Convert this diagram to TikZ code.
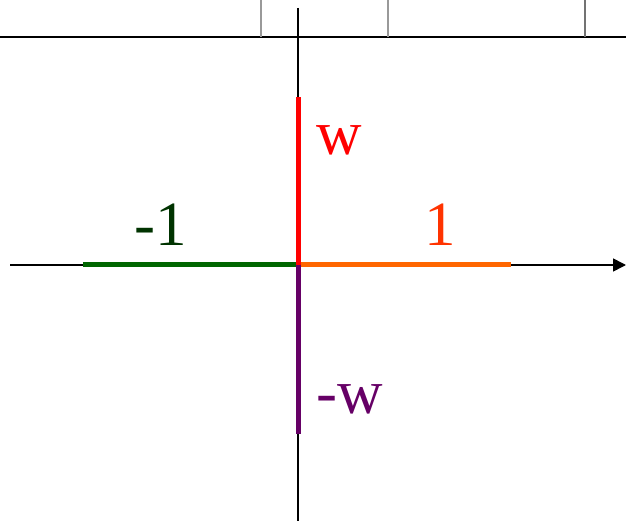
\documentclass[tikz,border=0pt]{standalone}
\usepackage{fontspec}
\setmainfont{Liberation Serif}
\usetikzlibrary{arrows.meta}
\definecolor{cRed}{RGB}{255,0,0}
\definecolor{cOrange}{RGB}{255,102,0}
\definecolor{cOrangeTxt}{RGB}{255,51,0}
\definecolor{cGreen}{RGB}{0,102,0}
\definecolor{cGreenTxt}{RGB}{0,51,0}
\definecolor{cPurple}{RGB}{102,0,102}
\begin{document}
\begin{tikzpicture}[x=1pt,y=-1pt,
  axis/.style={line width=1.6pt,black},
  tickline/.style={line width=1.3pt,gray!80},
  seg/.style={line width=5pt},
  lbl/.style={inner sep=0pt,anchor=base west,font=\fontsize{63}{63}\selectfont}]
\useasboundingbox (0,0) rectangle (626,521);
% top frame
\coordinate (tl) at (0,37);
\coordinate (tr) at (626,37);
\draw[axis] (tl) -- (tr);
\foreach \x/\g in {261/gray!80,388/gray!80,585/gray!90!black}{
  \draw[line width=1.3pt,\g] (\x,0) -- (\x,37);
}
% axes
\coordinate (O) at (298,265);
\coordinate (xl) at (10,265);
\coordinate (xr) at (626,265);
\coordinate (yt) at (298,8);
\coordinate (yb) at (298,521);
\draw[axis] (yt) -- (yb);
\draw[axis,-{Triangle[length=13pt,width=13pt]}] (xl) -- (xr);
% segments
\coordinate (pw) at (298,97);
\coordinate (pmw) at (298,434);
\coordinate (p1) at (511,265);
\coordinate (pm1) at (83,265);
\draw[seg,cGreen] (pm1) -- (O);
\draw[seg,cOrange] (O) -- (p1);
\draw[seg,cRed] (O) -- (pw);
\draw[seg,cPurple] (O) -- (pmw);
% labels
\node[lbl,text=cRed] (lw) at (316,155) {w};
\node[lbl,text=cGreenTxt] (lm1) at (134,246) {-1};
\node[lbl,text=cOrangeTxt] (l1) at (424,246) {1};
\node[lbl,text=cPurple] (lmw) at (316,413) {-w};
\end{tikzpicture}
\end{document}
